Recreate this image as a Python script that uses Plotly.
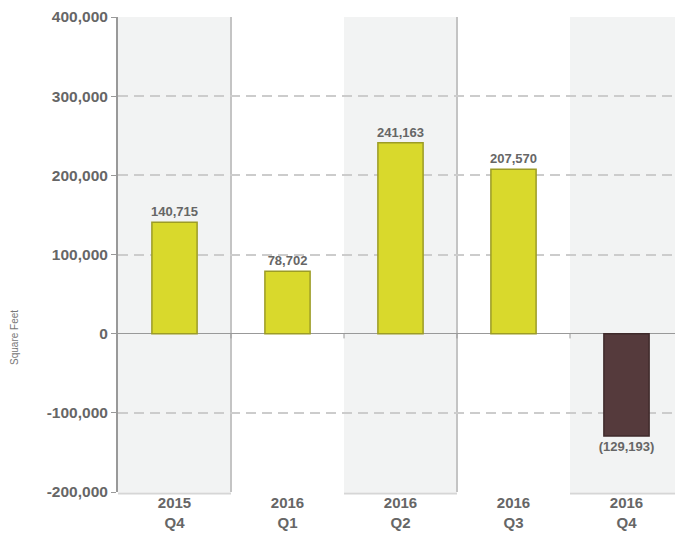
import plotly.graph_objects as go

quarters = ["2015<br>Q4", "2016<br>Q1", "2016<br>Q2", "2016<br>Q3", "2016<br>Q4"]
absorption = [140715, 78702, 241163, 207570, -129193]
y_ticks = [-200000, -100000, 0, 100000, 200000, 300000, 400000]

YELLOW = "#d9d92c"
BROWN = "#553a3c"
FONT = "Liberation Sans, Arial"


def fmt(v):
    s = f"{abs(v):,}"
    return f"<b>({s})</b>" if v < 0 else f"<b>{s}</b>"


colors = [YELLOW if v >= 0 else BROWN for v in absorption]
edges = ["#9c9c26" if v >= 0 else "#3f2a2b" for v in absorption]
labels = [fmt(v) for v in absorption]

fig = go.Figure()
fig.add_trace(go.Bar(
    x=list(range(len(quarters))), y=absorption,
    width=0.4,
    marker=dict(color=colors, line=dict(color=edges, width=1.5)),
    text=labels, textposition="outside", constraintext="none",
    textfont=dict(family=FONT, size=13, color="#666666"),
    cliponaxis=False,
    hoverinfo="skip",
))

# alternating background bands + shadow edges
shapes = []
for i in range(len(quarters)):
    if i % 2 == 0:
        shapes.append(dict(type="rect", xref="x", yref="paper", x0=i - 0.5, x1=i + 0.5,
                           y0=0, y1=1, fillcolor="#f2f3f3", line_width=0, layer="below"))
        shapes.append(dict(type="line", xref="x", yref="paper", x0=i + 0.5, x1=i + 0.5,
                           y0=0, y1=1, line=dict(color="#c4c4c4", width=2), layer="below"))
        shapes.append(dict(type="line", xref="x", yref="paper", x0=i - 0.5, x1=i + 0.5,
                           y0=-0.003, y1=-0.003, line=dict(color="#d6d6d6", width=2), layer="below"))
# zero line ticks at band boundaries
for i in range(len(quarters) - 1):
    shapes.append(dict(type="line", xref="x", yref="y", x0=i + 0.5, x1=i + 0.5,
                       y0=0, y1=-6000, line=dict(color="#999999", width=1)))

fig.update_layout(
    # page body keeps an 8px margin, so the figure is 8px smaller and shifted
    width=675, height=531,
    margin=dict(l=110, r=0, t=6, b=47),
    paper_bgcolor="white", plot_bgcolor="white",
    showlegend=False,
    shapes=shapes,
    font=dict(family=FONT, color="#666666"),
    annotations=[dict(text="Square Feet", xref="paper", yref="paper",
                      x=(15 - 118) / 565, y=(492 - 337) / 478, textangle=-90,
                      showarrow=False, xanchor="center", yanchor="middle",
                      font=dict(family=FONT, size=10, color="#777777"))],
)
fig.update_xaxes(
    range=[-0.5, 4.5],
    tickvals=list(range(len(quarters))), ticktext=[f"<b>{q}</b>" for q in quarters],
    tickfont=dict(size=15, color="#666666"),
    showgrid=False, zeroline=False, showline=False, ticks="",
    fixedrange=True,
)
fig.update_yaxes(
    range=[-200000, 400000],
    tickvals=y_ticks, ticktext=[f"<b>{v:,}</b>" for v in y_ticks],
    tickfont=dict(size=15.5, color="#666666"),
    ticklabeloverflow="allow",
    ticks="outside", ticklen=5, tickcolor="#999999",
    showline=True, linecolor="#999999", linewidth=2,
    showgrid=True, gridcolor="#cccccc", griddash="10px,6px", gridwidth=1.5,
    zeroline=True, zerolinecolor="#999999", zerolinewidth=1,
    fixedrange=True,
)

fig.write_html("out.html")
